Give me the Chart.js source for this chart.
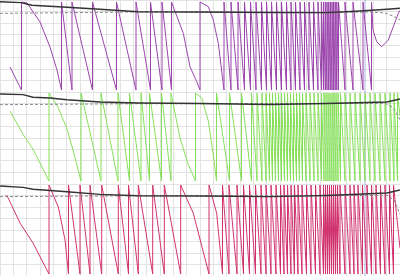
<!DOCTYPE html>
<html>
<head>
<meta charset="utf-8">
<script src="https://cdn.jsdelivr.net/npm/chart.js@4"></script>
<style>
  html, body { margin: 0; padding: 0; background: #fff; }
  #wrap { width: 400px; height: 276px; position: relative; }
</style>
</head>
<body>
<div id="wrap"><canvas id="phaseChart"></canvas></div>
<script>
// wrapped phase of three channels, stacked in rows 16-24, 8-16 and 0-8
const purpleTop = 23.83, purpleBottom = 16.17;
const greenTop = 15.91, greenBottom = 8.26;
const crimsonTop = 7.91, crimsonBottom = 0.17;

const purpleStart = [[10, 18.17]];
const purpleWraps = [21.5, 61.5, 72, 92.5, 116.5, 136, 150.5, 162, 171.5, 200, 224, 231, 238, 244.5, 250.5, 256, 261.5,
    266.5, 271.5, 276.5, 281.5, 286.5, 291, 295.5, 300, 304.5, 309, 313.5, 318, 321.5, 323.5, 325.3, 327, 328.7,
    330.3, 332, 333.6, 335.2, 336.8, 338.5, 345, 353, 363, 371.5];
const purpleCurves = {
    21.5: [[27, 23.74], [40, 22.09], [50, 19.91], [57, 17.91]],
    171.5: [[183.3, 21.10], [190, 18.2], [196.7, 16.9]],
    200: [[208.3, 23.42], [213.3, 22.26], [218.3, 20.23]]
};
const purpleTail = [[373, 21.39], [376.7, 20.37], [381.7, 19.94], [388.3, 20.52], [393.3, 21.68], [398.3, 22.84], [400, 23.1]];

const greenStart = [[10, 14.35], [23.3, 12.29], [33.3, 10.98]];
const greenWraps = [49, 81, 101, 118, 129.5, 141, 149.5, 161.5, 171, 195.5, 216.5, 229.5, 241.5, 251.5, 257, 262, 266,
    269.5, 272.5, 275.5, 278.5, 281.5, 284.5, 287.5, 290.5, 293.5, 296.5, 299.5, 302.5, 306, 310, 314, 318, 321.5,
    324, 326, 328, 330, 332, 334, 336, 338, 340.5, 345, 350, 355, 360, 365, 370, 375, 380, 385, 390, 394, 397.5];
const greenCurves = {
    49: [[58.3, 14.61], [66.7, 12.87], [73.3, 10.87]],
    171: [[180, 12.0], [188.3, 9.68]],
    195.5: [[201.7, 15.48], [208.3, 13.48], [213.3, 10.52]]
};
const greenTail = [[400, 13.91]];

const crimsonStart = [[6.7, 7.04], [20, 4.61], [33, 2.87]];
const crimsonWraps = [49, 68.5, 80, 90, 101.7, 118.3, 128.5, 138.3, 152.7, 164.3, 180.7, 209, 222.5, 229, 237, 243.5,
    249.5, 255.5, 261, 266, 271, 276, 280.5, 284, 287.5, 291, 294.5, 298, 302, 306.5, 311, 315.5, 320, 323.5, 325.5,
    327.5, 329.5, 331.5, 333.5, 335.5, 337.5, 340, 345, 350, 354, 358, 362.5, 367, 371.5, 376, 380.5, 385, 389.5, 393.5];
const crimsonCurves = {
    49: [[58.3, 6.0], [65, 3.13]],
    180.7: [[193.3, 5.45]],
    209: [[216.7, 5.45]]
};
const crimsonTail = [[400, 2.43]];

// reference (black) and expected (dashed) levels per row
const refX1 = [0, 21, 32, 67, 100, 138, 200, 270, 327, 360, 387, 400];
const refY1 = [23.85, 23.77, 23.54, 23.37, 23.19, 22.98, 22.96, 22.91, 22.90, 23.04, 23.19, 23.28];
const refX2 = [0, 23, 33, 50, 67, 100, 138, 200, 270, 327, 387, 400];
const refY2 = [15.83, 15.77, 15.54, 15.48, 15.33, 15.13, 15.04, 15.00, 14.91, 15.00, 15.13, 15.39];
const refX3 = [0, 23, 33, 67, 100, 138, 200, 270, 327, 387, 400];
const refY3 = [7.83, 7.71, 7.54, 7.33, 7.10, 6.98, 6.96, 6.90, 7.00, 7.22, 7.48];

const expX1 = [0, 138, 327, 370, 385, 393, 400];
const expY1 = [22.84, 22.96, 22.90, 22.96, 22.87, 22.61, 22.26];
const expX2 = [0, 138, 327, 385, 392, 396, 400];
const expY2 = [14.90, 14.98, 15.00, 15.02, 14.70, 14.26, 13.57];
const expX3 = [0, 138, 327, 388, 394, 400];
const expY3 = [6.90, 6.98, 7.00, 7.00, 6.61, 5.39];

const markerX = 365;

function sawtooth(start, wraps, top, bottom, curves, tail) {
    const pts = start.map(p => ({ x: p[0], y: p[1] }));
    wraps.forEach(w => {
        pts.push({ x: w, y: bottom });
        pts.push({ x: w, y: top });
        (curves[w] || []).forEach(p => pts.push({ x: p[0], y: p[1] }));
    });
    tail.forEach(p => pts.push({ x: p[0], y: p[1] }));
    return pts;
}

function zipXY(xs, ys) {
    return xs.map((x, i) => ({ x: x, y: ys[i] }));
}

function lineSet(data, color, width, extra) {
    return Object.assign({
        data: data,
        borderColor: color,
        borderWidth: width,
        showLine: true,
        pointRadius: 0,
        fill: false,
        tension: 0
    }, extra || {});
}

const datasets = [
    lineSet(zipXY(refX1, refY1), '#333', 1.4, { order: 0 }),
    lineSet(zipXY(refX2, refY2), '#333', 1.4, { order: 0 }),
    lineSet(zipXY(refX3, refY3), '#333', 1.4, { order: 0 }),
    lineSet(zipXY(expX1, expY1), '#888', 1, { order: 1, borderDash: [3, 2] }),
    lineSet(zipXY(expX2, expY2), '#888', 1, { order: 1, borderDash: [3, 2] }),
    lineSet(zipXY(expX3, expY3), '#888', 1, { order: 1, borderDash: [3, 2] }),
    lineSet(sawtooth(purpleStart, purpleWraps, purpleTop, purpleBottom, purpleCurves, purpleTail), '#9b45ad', 1, { order: 2 }),
    lineSet(sawtooth(greenStart, greenWraps, greenTop, greenBottom, greenCurves, greenTail), '#86e05a', 1, { order: 2 }),
    lineSet(sawtooth(crimsonStart, crimsonWraps, crimsonTop, crimsonBottom, crimsonCurves, crimsonTail), '#d1336f', 1, { order: 2 }),
    lineSet([{ x: markerX, y: 0 }, { x: markerX, y: 24 }], 'rgba(110,120,200,0.55)', 1, { order: 3 })
];

new Chart(document.getElementById('phaseChart'), {
    type: 'scatter',
    data: { datasets: datasets },
    options: {
        responsive: true,
        maintainAspectRatio: false,
        animation: false,
        layout: { padding: 0 },
        plugins: { legend: { display: false }, tooltip: { enabled: false } },
        scales: {
            x: {
                type: 'linear',
                min: 0,
                max: 400,
                afterBuildTicks: axis => {
                    axis.ticks = [];
                    for (let i = 0; i <= 30; i++) axis.ticks.push({ value: i * 400 / 30 });
                },
                ticks: { display: false },
                grid: { color: '#e3e3e3', drawTicks: false },
                border: { display: false }
            },
            y: {
                min: 0,
                max: 24,
                ticks: { display: false, stepSize: 1 },
                grid: { color: '#e3e3e3', drawTicks: false },
                border: { display: false }
            }
        }
    }
});
</script>
</body>
</html>
